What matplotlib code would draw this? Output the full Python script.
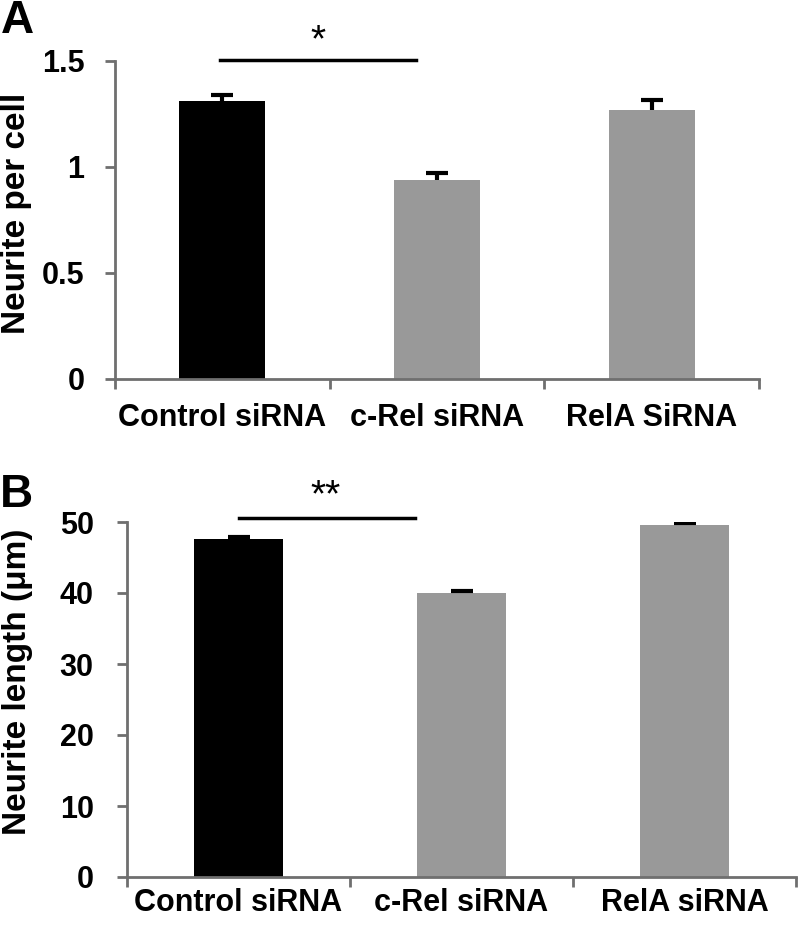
import matplotlib
matplotlib.use("Agg")
import matplotlib.pyplot as plt

plt.rcParams['font.family'] = ['Liberation Sans', 'DejaVu Sans']
plt.rcParams['font.weight'] = 'bold'

# data
labels_a = ['Control siRNA', 'c-Rel siRNA', 'RelA SiRNA']
neurites = [1.31, 0.94, 1.267]
neurites_err = [0.03, 0.033, 0.048]

labels_b = ['Control siRNA', 'c-Rel siRNA', 'RelA siRNA']
lengths = [47.6, 40.05, 49.6]
lengths_err = [0.25, 0.25, 0.25]

colors = ['#000000', '#999999', '#999999']
axis_grey = '#6f6f6f'

fig = plt.figure(figsize=(8, 9.26), dpi=100)
W, H = 800, 926


def make_axes(x0, x1, y_top, y_bottom):
    return fig.add_axes([x0 / W, 1 - y_bottom / H, (x1 - x0) / W, (y_bottom - y_top) / H])


def bar_panel(ax, labels, vals, errs, ymax, yticks, ylabel, xpad, ypad, label_xy):
    pos = [i + 0.5 for i in range(len(vals))]
    ax.bar(pos, vals, width=0.40, color=colors, zorder=2)
    eb = ax.errorbar(pos, vals, yerr=[[0] * len(errs), errs], fmt='none',
                     ecolor='black', elinewidth=3, capsize=8, capthick=3, zorder=3)
    eb[1][0].set_visible(False)  # only the upper cap, Excel style
    ax.set_xlim(0, len(vals))
    ax.set_ylim(0, ymax)
    ax.set_yticks(yticks)
    ax.set_yticklabels([f'{t:g}' for t in yticks])
    ax.set_xticks(range(len(vals) + 1))
    ax.set_xticklabels([])
    ax.set_xticks(pos, minor=True)
    ax.set_xticklabels(labels, minor=True)
    ax.tick_params(axis='x', which='minor', length=0, pad=xpad, labelsize=22)
    ax.tick_params(axis='x', which='major', length=7, width=2, color=axis_grey)
    ax.tick_params(axis='y', length=7, width=2, color=axis_grey, pad=ypad, labelsize=22)
    for s in ['top', 'right']:
        ax.spines[s].set_visible(False)
    for s in ['left', 'bottom']:
        ax.spines[s].set_color(axis_grey)
        ax.spines[s].set_linewidth(2)
    ax.set_ylabel(ylabel, fontsize=24, fontweight='bold', va='center')
    ax.yaxis.set_label_coords(*label_xy)


ax1 = make_axes(115, 759, 61, 379)
bar_panel(ax1, labels_a, neurites, neurites_err, 1.5, [0, 0.5, 1, 1.5],
          'Neurite per cell', 17, 15, (-0.153, 0.52))
ax1.plot([0.49, 1.40], [1.505, 1.505], color='black', lw=2.5, clip_on=False)
ax1.text(0.945, 1.595, '*', ha='center', va='center', fontsize=28, fontweight='normal')

ax2 = make_axes(127, 796, 522, 877)
bar_panel(ax2, labels_b, lengths, lengths_err, 50, [0, 10, 20, 30, 40, 50],
          'Neurite length (μm)', 8, 17, (-0.163, 0.55))
ax2.plot([0.50, 1.29], [50.56, 50.56], color='black', lw=2.5, clip_on=False)
ax2.text(0.89, 53.6, '**', ha='center', va='center', fontsize=28, fontweight='normal')

fig.text(17 / W, 1 - 21 / H, 'A', ha='center', va='center', fontsize=33, fontweight='bold')
fig.text(16 / W, 1 - 495 / H, 'B', ha='center', va='center', fontsize=33, fontweight='bold')

fig.savefig('out.png', dpi=100)
